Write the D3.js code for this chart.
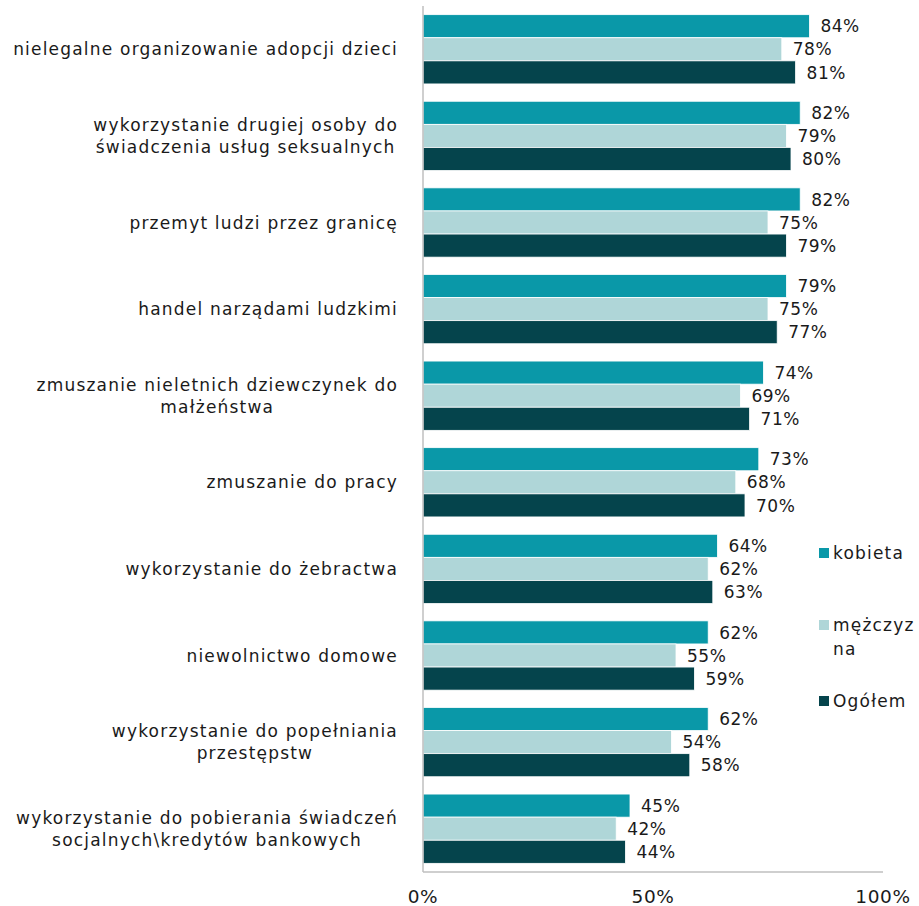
<!DOCTYPE html>
<html>
<head>
<meta charset="utf-8">
<script src="https://cdn.jsdelivr.net/npm/d3@7"></script>
<style>
  body { margin: 0; background: #fff; }
  text { font-family: "DejaVu Sans", Verdana, sans-serif; fill: #1a1a1a; }
</style>
</head>
<body>
<div id="chart"></div>
<script>
// categories (each label split in lines as in the original)
const categories = [
  ["nielegalne organizowanie adopcji dzieci"],
  ["wykorzystanie drugiej osoby do", "świadczenia usług seksualnych"],
  ["przemyt ludzi przez granicę"],
  ["handel narządami ludzkimi"],
  ["zmuszanie nieletnich dziewczynek do", "małżeństwa"],
  ["zmuszanie do pracy"],
  ["wykorzystanie do żebractwa"],
  ["niewolnictwo domowe"],
  ["wykorzystanie do popełniania", "przestępstw"],
  ["wykorzystanie do pobierania świadczeń", "socjalnych\\kredytów bankowych"]
];
const seriesNames = ["kobieta", "mężczyzna", "Ogółem"];
const kobieta   = [84, 82, 82, 79, 74, 73, 64, 62, 62, 45];
const mezczyzna = [78, 79, 75, 75, 69, 68, 62, 55, 54, 42];
const ogolem    = [81, 80, 79, 77, 71, 70, 63, 59, 58, 44];
const xTicks = [0, 50, 100];

const colors = ["#0a98a8", "#afd6d8", "#05444c"];
const series = [kobieta, mezczyzna, ogolem];

const dims = { width: 919, height: 906, left: 423, right: 883, top: 6, bottom: 872 };

const svg = d3.select('#chart').append('svg')
  .attr('width', dims.width)
  .attr('height', dims.height);

const xScale = d3.scaleLinear().domain([0, 100]).range([dims.left, dims.right]);
const yScale = d3.scaleBand()
  .domain(d3.range(categories.length))
  .range([dims.top, dims.bottom])
  .paddingInner(0.2)
  .paddingOuter(0.1);
const ySub = d3.scaleBand()
  .domain(d3.range(series.length))
  .range([0, yScale.bandwidth()]);

// bars
const groups = svg.selectAll('g.grp')
  .data(categories)
  .join('g')
  .attr('class', 'grp')
  .attr('transform', (d, i) => `translate(0, ${yScale(i)})`);

groups.selectAll('rect')
  .data((d, i) => series.map((s, j) => ({ v: s[i], j })))
  .join('rect')
  .attr('x', xScale(0))
  .attr('y', d => ySub(d.j))
  .attr('width', d => xScale(d.v) - xScale(0))
  .attr('height', ySub.bandwidth())
  .attr('fill', d => colors[d.j])
  .attr('stroke', '#fff')
  .attr('stroke-width', 0.8);

groups.selectAll('text.val')
  .data((d, i) => series.map((s, j) => ({ v: s[i], j })))
  .join('text')
  .attr('class', 'val')
  .attr('x', d => xScale(d.v) + 11)
  .attr('y', d => ySub(d.j) + ySub.bandwidth() / 2)
  .attr('dy', '0.36em')
  .style('font-size', '17px')
  .style('letter-spacing', '0.5px')
  .text(d => d.v + '%');

// axes lines
svg.append('line')
  .attr('x1', xScale(0)).attr('x2', xScale(0))
  .attr('y1', dims.top).attr('y2', dims.bottom)
  .attr('stroke', '#bfbfbf').attr('stroke-width', 1.5);
svg.append('line')
  .attr('x1', xScale(0)).attr('x2', xScale(100))
  .attr('y1', dims.bottom).attr('y2', dims.bottom)
  .attr('stroke', '#bfbfbf').attr('stroke-width', 1.5);

// x tick labels
svg.selectAll('text.tick')
  .data(xTicks)
  .join('text')
  .attr('class', 'tick')
  .attr('x', d => xScale(d))
  .attr('y', 903)
  .attr('text-anchor', 'middle')
  .style('font-size', '18.5px')
  .style('letter-spacing', '0.6px')
  .text(d => d + '%');

// category labels: lines centred, block right-aligned at x=398
const lineH = 22;
categories.forEach((lines, i) => {
  const cy = yScale(i) + yScale.bandwidth() / 2;
  const t = svg.append('text')
    .attr('text-anchor', 'middle')
    .style('font-size', '17px')
    .style('letter-spacing', '1.2px');
  const spans = lines.map((ln, k) => t.append('tspan')
    .attr('y', cy + (k - (lines.length - 1) / 2) * lineH)
    .attr('dy', '0.36em')
    .text(ln));
  const w = d3.max(spans, s => s.node().getComputedTextLength());
  spans.forEach(s => s.attr('x', 398 - w / 2));
});

// legend
const legend = [
  { name: ["kobieta"], y: 553 },
  { name: ["mężczyz", "na"], y: 625 },
  { name: ["Ogółem"], y: 701 }
];
legend.forEach((l, i) => {
  svg.append('rect')
    .attr('x', 819).attr('y', l.y - 5)
    .attr('width', 10).attr('height', 10)
    .attr('fill', colors[i]);
  const t = svg.append('text')
    .style('font-size', '17px')
    .style('letter-spacing', '1.2px');
  l.name.forEach((ln, k) => t.append('tspan')
    .attr('x', 833)
    .attr('y', l.y + k * 24)
    .attr('dy', '0.36em')
    .text(ln));
});
</script>
</body>
</html>
